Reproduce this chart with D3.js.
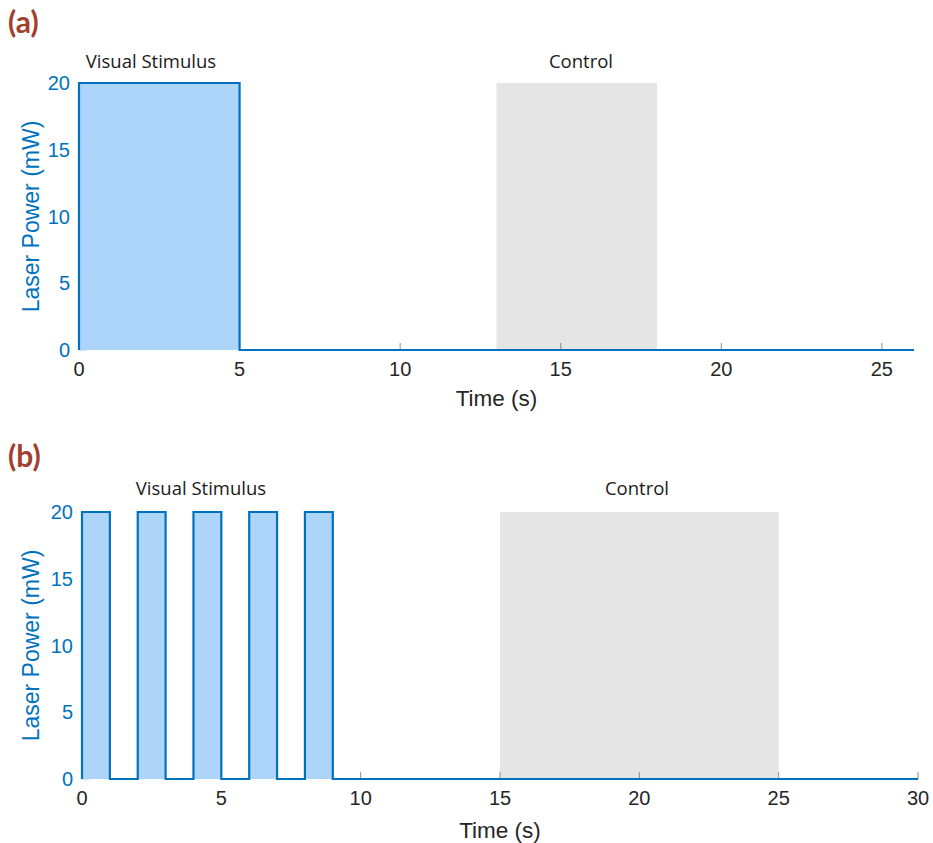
<!DOCTYPE html>
<html>
<head>
<meta charset="utf-8">
<script src="https://cdn.jsdelivr.net/npm/d3@7"></script>
<style>
  body { margin: 0; background: #fff; }
  svg { display: block; }
</style>
</head>
<body>
<svg id="chart" width="933" height="843"></svg>
<script>
// Stimulation protocols: laser power (mW) over time (s)
const yTicks = [0, 5, 10, 15, 20];

// Panel (a): one continuous 5 s pulse
const timeA  = [0, 0, 5, 5, 26];
const powerA = [0, 20, 20, 0, 0];
const controlA = [13, 18];
const xTicksA = [0, 5, 10, 15, 20, 25];

// Panel (b): five 1 s pulses at 0.5 Hz
const timeB  = [0, 0, 1, 1, 2, 2, 3, 3, 4, 4, 5, 5, 6, 6, 7, 7, 8, 8, 9, 9, 30];
const powerB = [0, 20, 20, 0, 0, 20, 20, 0, 0, 20, 20, 0, 0, 20, 20, 0, 0, 20, 20, 0, 0];
const controlB = [15, 25];
const xTicksB = [0, 5, 10, 15, 20, 25, 30];

const panels = [
  { tag: "(a)", tagY: 33, time: timeA, power: powerA, control: controlA, xTicks: xTicksA,
    xMax: 26, left: 79, right: 914, top: 83, bottom: 350,
    stimX: 151, ctrlX: 581, labelY: 68, tickLabelY: 376, titleY: 406 },
  { tag: "(b)", tagY: 467, time: timeB, power: powerB, control: controlB, xTicks: xTicksB,
    xMax: 30, left: 82, right: 918, top: 512, bottom: 779,
    stimX: 201, ctrlX: 637, labelY: 495, tickLabelY: 805, titleY: 838 }
];

const svg = d3.select("#chart");
const blue = "#0072BD";
const fillBlue = "#ADD5FA";

panels.forEach(p => {
  const x = d3.scaleLinear().domain([0, p.xMax]).range([p.left, p.right]);
  const y = d3.scaleLinear().domain([0, 20]).range([p.bottom, p.top]);
  const g = svg.append("g");

  // panel tag
  g.append("text")
    .attr("x", 8).attr("y", p.tagY)
    .attr("font-family", "Lato, 'Open Sans', sans-serif")
    .attr("font-weight", "bold").attr("font-size", 30)
    .attr("fill", "#A0412D")
    .text(p.tag);

  // control window
  g.append("rect")
    .attr("x", x(p.control[0])).attr("y", y(20))
    .attr("width", x(p.control[1]) - x(p.control[0]))
    .attr("height", y(0) - y(20))
    .attr("fill", "#E5E5E5");

  // y tick marks (inward, pale)
  g.selectAll(".ytick").data(yTicks).join("line")
    .attr("x1", p.left).attr("x2", p.left + 7)
    .attr("y1", d => y(d)).attr("y2", d => y(d))
    .attr("stroke", "#9FC7E8").attr("stroke-width", 1);

  // x tick marks (inward, grey)
  g.selectAll(".xtick").data(p.xTicks).join("line")
    .attr("x1", d => x(d)).attr("x2", d => x(d))
    .attr("y1", p.bottom).attr("y2", p.bottom - 7)
    .attr("stroke", "#8C8C8C").attr("stroke-width", 1);

  const pts = p.time.map((t, i) => [t, p.power[i]]);

  // filled area under the power trace
  g.append("path")
    .datum(pts)
    .attr("d", d3.area().x(d => x(d[0])).y0(y(0)).y1(d => y(d[1])))
    .attr("fill", fillBlue);

  // power trace
  g.append("path")
    .datum(pts)
    .attr("d", d3.line().x(d => x(d[0])).y(d => y(d[1])))
    .attr("fill", "none").attr("stroke", blue)
    .attr("stroke-width", 2.2).attr("stroke-linejoin", "miter");

  // y tick labels
  g.selectAll(".ylab").data(yTicks).join("text")
    .attr("x", p.left - 9).attr("y", d => y(d) + 7)
    .attr("text-anchor", "end")
    .attr("font-family", "'Liberation Sans', Arial, sans-serif")
    .attr("font-size", 20).attr("fill", blue)
    .text(d => d);

  // x tick labels
  g.selectAll(".xlab").data(p.xTicks).join("text")
    .attr("x", d => x(d)).attr("y", p.tickLabelY)
    .attr("text-anchor", "middle")
    .attr("font-family", "'Liberation Sans', Arial, sans-serif")
    .attr("font-size", 20).attr("fill", "#262626")
    .text(d => d);

  // axis titles
  g.append("text")
    .attr("x", (p.left + p.right) / 2).attr("y", p.titleY)
    .attr("text-anchor", "middle")
    .attr("font-family", "'Liberation Sans', Arial, sans-serif")
    .attr("font-size", 22.5).attr("fill", "#262626")
    .text("Time (s)");

  g.append("text")
    .attr("transform", `translate(39,${(p.top + p.bottom) / 2}) rotate(-90)`)
    .attr("text-anchor", "middle")
    .attr("font-family", "'Liberation Sans', Arial, sans-serif")
    .attr("font-size", 23).attr("fill", blue)
    .text("Laser Power (mW)");

  // window annotations
  [[p.stimX, "Visual Stimulus"], [p.ctrlX, "Control"]].forEach(([cx, label]) => {
    g.append("text")
      .attr("x", cx).attr("y", p.labelY)
      .attr("text-anchor", "middle")
      .attr("font-family", "'Open Sans', sans-serif")
      .attr("font-size", 18.5).attr("fill", "#1a1a1a")
      .text(label);
  });
});
</script>
</body>
</html>
